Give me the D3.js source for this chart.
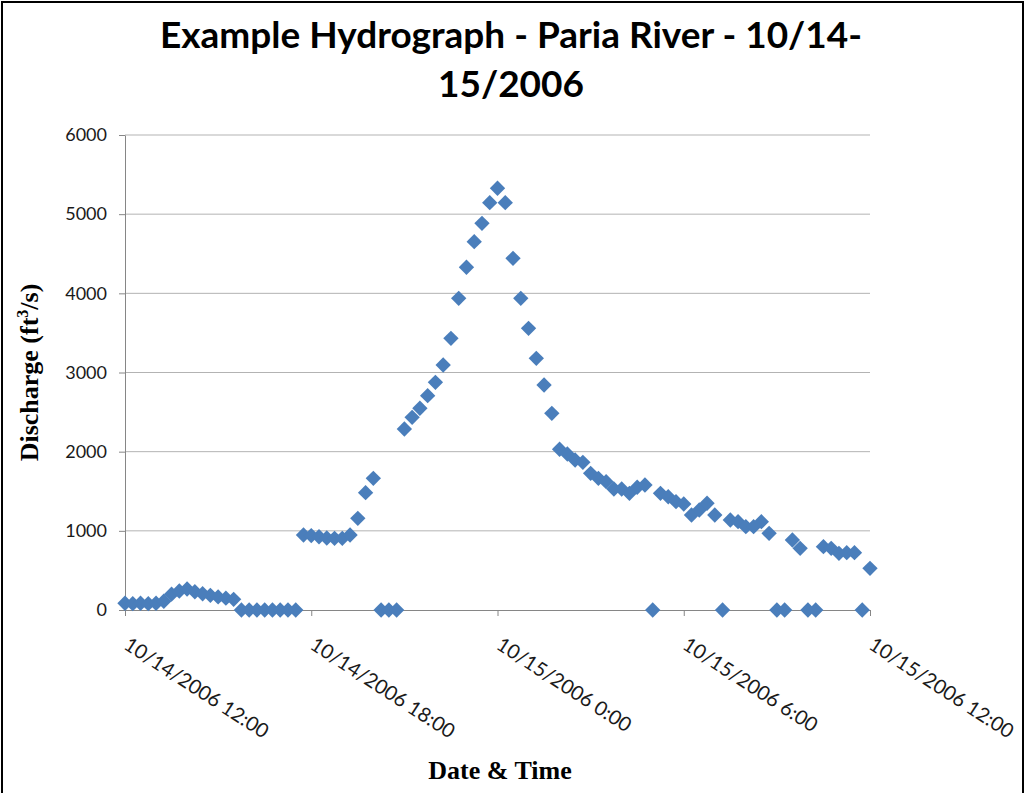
<!DOCTYPE html>
<html>
<head>
<meta charset="utf-8">
<script src="https://cdn.jsdelivr.net/npm/d3@7"></script>
<style>
  body { margin: 0; background: #fff; }
  svg { display: block; }
</style>
</head>
<body>
<svg id="chart"></svg>
<script>
// 15 minute readings, Paria River
const times = [
  "10/14/2006 12:00", "10/14/2006 12:15", "10/14/2006 12:30", "10/14/2006 12:45",
  "10/14/2006 13:00", "10/14/2006 13:15", "10/14/2006 13:30", "10/14/2006 13:45",
  "10/14/2006 14:00", "10/14/2006 14:15", "10/14/2006 14:30", "10/14/2006 14:45",
  "10/14/2006 15:00", "10/14/2006 15:15", "10/14/2006 15:30", "10/14/2006 15:45",
  "10/14/2006 16:00", "10/14/2006 16:15", "10/14/2006 16:30", "10/14/2006 16:45",
  "10/14/2006 17:00", "10/14/2006 17:15", "10/14/2006 17:30", "10/14/2006 17:45",
  "10/14/2006 18:00", "10/14/2006 18:15", "10/14/2006 18:30", "10/14/2006 18:45",
  "10/14/2006 19:00", "10/14/2006 19:15", "10/14/2006 19:30", "10/14/2006 19:45",
  "10/14/2006 20:00", "10/14/2006 20:15", "10/14/2006 20:30", "10/14/2006 20:45",
  "10/14/2006 21:00", "10/14/2006 21:15", "10/14/2006 21:30", "10/14/2006 21:45",
  "10/14/2006 22:00", "10/14/2006 22:15", "10/14/2006 22:30", "10/14/2006 22:45",
  "10/14/2006 23:00", "10/14/2006 23:15", "10/14/2006 23:30", "10/14/2006 23:45",
  "10/15/2006 0:00", "10/15/2006 0:15", "10/15/2006 0:30", "10/15/2006 0:45",
  "10/15/2006 1:00", "10/15/2006 1:15", "10/15/2006 1:30", "10/15/2006 1:45",
  "10/15/2006 2:00", "10/15/2006 2:15", "10/15/2006 2:30", "10/15/2006 2:45",
  "10/15/2006 3:00", "10/15/2006 3:15", "10/15/2006 3:30", "10/15/2006 3:45",
  "10/15/2006 4:00", "10/15/2006 4:15", "10/15/2006 4:30", "10/15/2006 4:45",
  "10/15/2006 5:00", "10/15/2006 5:15", "10/15/2006 5:30", "10/15/2006 5:45",
  "10/15/2006 6:00", "10/15/2006 6:15", "10/15/2006 6:30", "10/15/2006 6:45",
  "10/15/2006 7:00", "10/15/2006 7:15", "10/15/2006 7:30", "10/15/2006 7:45",
  "10/15/2006 8:00", "10/15/2006 8:15", "10/15/2006 8:30", "10/15/2006 8:45",
  "10/15/2006 9:00", "10/15/2006 9:15", "10/15/2006 9:30", "10/15/2006 9:45",
  "10/15/2006 10:00", "10/15/2006 10:15", "10/15/2006 10:30", "10/15/2006 10:45",
  "10/15/2006 11:00", "10/15/2006 11:15", "10/15/2006 11:30", "10/15/2006 11:45",
  "10/15/2006 12:00",
];

// ft3/s
const discharge = [
  85, 80, 85, 80, 85, 110, 200, 240,
  265, 230, 205, 185, 165, 150, 135, 0,
  0, 0, 0, 0, 0, 0, 0, 947,
  940, 925, 910, 905, 905, 947, 1158, 1482,
  1663, 0, 0, 0, 2286, 2434, 2548, 2707,
  2876, 3095, 3432, 3937, 4329, 4653, 4884, 5145,
  5327, 5145, 4442, 3937, 3558, 3179, 2842, 2484,
  2030, 1970, 1895, 1865, 1726, 1663, 1621, 1528,
  1528, 1474, 1550, 1579, 0, 1474, 1431, 1368,
  1339, 1200, 1263, 1348, 1200, 0, 1137, 1116,
  1053, 1053, 1116, 968, 0, 0, 884, 779,
  0, 0, 800, 779, 716, 724, 724, 0,
  526,
];

const xTickLabels = [
  "10/14/2006 12:00", "10/14/2006 18:00", "10/15/2006 0:00",
  "10/15/2006 6:00", "10/15/2006 12:00",
];
const yTicks = [0, 1000, 2000, 3000, 4000, 5000, 6000];

class Hydrograph {
  constructor(_config) {
    this.config = {
      parentElement: _config.parentElement,
      containerWidth: _config.containerWidth || 1028,
      containerHeight: _config.containerHeight || 793,
      margin: _config.margin || { top: 135, right: 158, bottom: 183, left: 125 },
    };
    this.initVis();
  }

  initVis() {
    let vis = this;
    const parseTime = d3.timeParse("%m/%d/%Y %H:%M");

    vis.width = vis.config.containerWidth - vis.config.margin.left - vis.config.margin.right;
    vis.height = vis.config.containerHeight - vis.config.margin.top - vis.config.margin.bottom;

    vis.data = times.map((t, i) => ({ time: parseTime(t), q: discharge[i] }));
    vis.tickTimes = xTickLabels.map(parseTime);

    vis.svg = d3
      .select(vis.config.parentElement)
      .attr("width", vis.config.containerWidth)
      .attr("height", vis.config.containerHeight);

    // outer frame
    vis.svg
      .append("rect")
      .attr("x", 2)
      .attr("y", 2)
      .attr("width", 1021)
      .attr("height", 820)
      .attr("fill", "#fff")
      .attr("stroke", "#000")
      .attr("stroke-width", 2);

    vis.chart = vis.svg
      .append("g")
      .attr("transform", `translate(${vis.config.margin.left},${vis.config.margin.top})`);

    vis.xScale = d3
      .scaleTime()
      .domain(d3.extent(vis.tickTimes))
      .range([0, vis.width]);

    vis.yScale = d3.scaleLinear().domain([0, 6000]).range([vis.height, 0]);

    // gridlines
    vis.chart
      .append("g")
      .selectAll("line")
      .data(yTicks.filter((d) => d > 0))
      .join("line")
      .attr("x1", 0)
      .attr("x2", vis.width)
      .attr("y1", (d) => vis.yScale(d))
      .attr("y2", (d) => vis.yScale(d))
      .attr("stroke", "#b3b3b3")
      .attr("stroke-width", 1);

    vis.yAxis = d3
      .axisLeft(vis.yScale)
      .tickValues(yTicks)
      .tickSize(6)
      .tickPadding(12)
      .tickSizeOuter(0)
      .tickFormat(d3.format("d"));

    vis.xAxis = d3
      .axisBottom(vis.xScale)
      .tickValues(vis.tickTimes)
      .tickSize(6)
      .tickSizeOuter(0)
      .tickFormat((d, i) => xTickLabels[i]);

    vis.yAxisGroup = vis.chart.append("g").call(vis.yAxis);
    vis.xAxisGroup = vis.chart
      .append("g")
      .attr("transform", `translate(0,${vis.height})`)
      .call(vis.xAxis);

    [vis.yAxisGroup, vis.xAxisGroup].forEach((g) => {
      g.select(".domain").attr("stroke", "#868686");
      g.selectAll(".tick line").attr("stroke", "#868686");
      g.selectAll(".tick text")
        .attr("fill", "#1a1a1a")
        .style("font-family", "Lato, 'Open Sans', sans-serif")
        .style("font-size", "18px");
    });

    vis.xAxisGroup
      .selectAll(".tick text")
      .attr("text-anchor", "start")
      .attr("dy", null)
      .attr("y", null)
      .style("font-size", "20px")
      .attr("transform", "translate(-3,38) rotate(33)");

    // markers
    vis.chart
      .append("g")
      .selectAll("path")
      .data(vis.data)
      .join("path")
      .attr("d", d3.symbol(d3.symbolDiamond2, 150))
      .attr("transform", (d) => `translate(${vis.xScale(d.time)},${vis.yScale(d.q)})`)
      .attr("fill", "#4a7ebb");

    // title
    const title = vis.svg
      .append("text")
      .attr("text-anchor", "middle")
      .style("font-family", "Lato, sans-serif")
      .style("font-weight", "bold")
      .style("font-size", "37px")
      .attr("fill", "#000");
    title
      .append("tspan")
      .attr("x", 511)
      .attr("y", 48)
      .attr("textLength", 702)
      .attr("lengthAdjust", "spacingAndGlyphs")
      .text("Example Hydrograph - Paria River - 10/14-");
    title
      .append("tspan")
      .attr("x", 511)
      .attr("y", 97)
      .text("15/2006");

    // axis titles
    const ylab = vis.svg
      .append("text")
      .attr("transform", `translate(38,${vis.config.margin.top + vis.height / 2}) rotate(-90)`)
      .attr("text-anchor", "middle")
      .style("font-family", "'Liberation Serif', 'Times New Roman', serif")
      .style("font-weight", "bold")
      .style("font-size", "26px")
      .attr("fill", "#000");
    ylab.append("tspan").text("Discharge (ft");
    ylab.append("tspan").attr("dy", -10).style("font-size", "16px").text("3");
    ylab.append("tspan").attr("dy", 10).text("/s)");

    vis.svg
      .append("text")
      .attr("x", 500)
      .attr("y", 779)
      .attr("text-anchor", "middle")
      .style("font-family", "'Liberation Serif', 'Times New Roman', serif")
      .style("font-weight", "bold")
      .style("font-size", "26px")
      .attr("fill", "#000")
      .text("Date & Time");
  }
}

new Hydrograph({ parentElement: "#chart" });
</script>
</body>
</html>
